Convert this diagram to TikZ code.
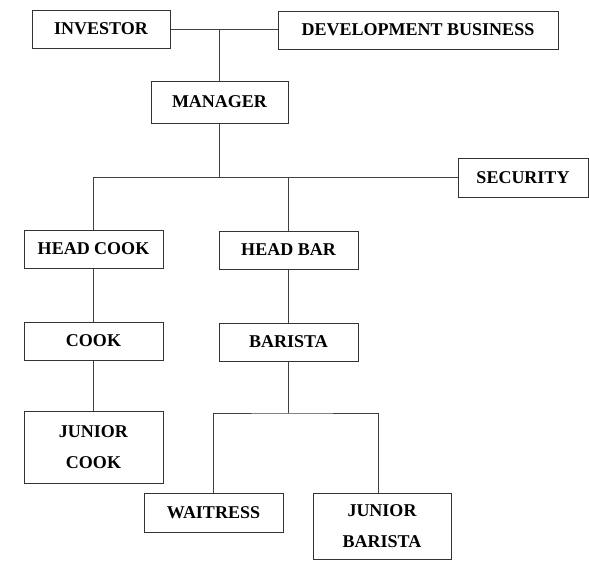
\documentclass[tikz,border=0pt]{standalone}
\usepackage{fontspec}
\setmainfont{Liberation Serif}
\begin{document}
\begin{tikzpicture}[x=1pt,y=-1pt,
  box/.style={draw=black!80,line width=1pt,rectangle,inner sep=0pt,align=center,
    font=\fontsize{18}{31}\selectfont\bfseries},
  conn/.style={draw=black!75,line width=1pt}]
\useasboundingbox (0,0) rectangle (589,560);
\node[box,minimum width=138pt,minimum height=38pt] (investor) at (101,29) {INVESTOR};
\node[box,minimum width=280pt,minimum height=38pt] (dev) at (418,30) {DEVELOPMENT BUSINESS};
\node[box,minimum width=137pt,minimum height=42pt] (manager) at (219.5,102) {MANAGER};
\node[box,minimum width=130pt,minimum height=39pt] (security) at (523,177.5) {SECURITY};
\node[box,minimum width=139pt,minimum height=38pt] (headcook) at (93.5,249) {HEAD COOK};
\node[box,minimum width=139pt,minimum height=38pt] (headbar) at (288.5,250) {HEAD BAR};
\node[box,minimum width=139pt,minimum height=38pt] (cook) at (93.5,341) {COOK};
\node[box,minimum width=139pt,minimum height=38pt] (barista) at (288.5,342) {BARISTA};
\node[box,minimum width=139pt,minimum height=72pt] (juniorcook) at (93.5,447) {JUNIOR\\COOK};
\node[box,minimum width=139pt,minimum height=39pt] (waitress) at (213.5,512.5) {WAITRESS};
\node[box,minimum width=138pt,minimum height=66pt] (juniorbarista) at (382,526) {JUNIOR\\BARISTA};
\coordinate (br) at (288.5,413);
% top
\draw[conn] (investor.east) -- (investor.east -| dev.west);
\draw[conn] (manager.north |- investor.east) -- (manager.north);
% manager branch
\draw[conn] (manager.south) -- (manager.south |- security.west);
\draw[conn] (headcook.north) |- (security.west);
\draw[conn] (headbar.north) -- (headbar.north |- security.west);
% columns
\draw[conn] (headcook.south) -- (cook.north);
\draw[conn] (cook.south) -- (juniorcook.north);
\draw[conn] (headbar.south) -- (barista.north);
\draw[conn] (barista.south) -- (br);
\draw[conn] (waitress.north) |- (br) -| ([xshift=-4pt]juniorbarista.north);
\end{tikzpicture}
\end{document}
